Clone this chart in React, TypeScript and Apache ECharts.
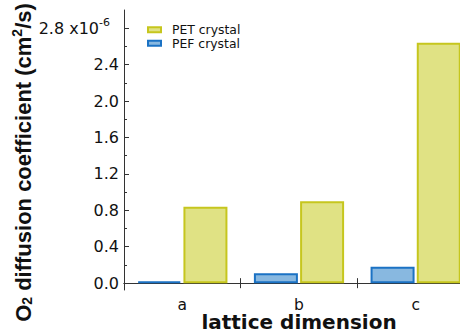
import { useEffect, useRef } from 'react';
import * as echarts from 'echarts';

const categories = ['a', 'b', 'c'];
const pefCrystal = [0.02, 0.11, 0.18];
const petCrystal = [0.84, 0.9, 2.64];
const majorTicks = [0, 0.4, 0.8, 1.2, 1.6, 2.0, 2.4, 2.8];
const minorTicks = [0.2, 0.6, 1.0, 1.4, 1.8, 2.2, 2.6];
const legendOrder = ['PET crystal', 'PEF crystal'];

const FONT = 'DejaVu Sans';
const AXIS_COLOR = '#333333';

export default function App() {
  const ref = useRef<HTMLDivElement>(null);
  useEffect(() => {
    if (!ref.current) return;
    const chart = echarts.init(ref.current, null, { renderer: 'svg' });
    const yMin = -0.075;
    const yMax = 3.0;
    chart.setOption({
      animation: false,
      backgroundColor: '#ffffff',
      grid: { left: 124, top: 10, bottom: 41, right: -14, containLabel: false, outerBoundsMode: 'none' },
      legend: {
        data: legendOrder,
        orient: 'vertical',
        left: 142,
        top: 18,
        itemWidth: 13,
        itemHeight: 5,
        itemGap: 0,
        icon: 'rect',
        textStyle: { fontFamily: FONT, fontSize: 12.4, color: '#111', lineHeight: 13.5, padding: [0, 0, 0, 6] },
      },
      xAxis: [
        {
          type: 'category',
          data: categories,
          position: 'bottom',
          axisLine: { show: true, lineStyle: { color: AXIS_COLOR, width: 1 } },
          axisTick: { show: true, inside: true, length: 5, lineStyle: { color: AXIS_COLOR } },
          axisLabel: { fontFamily: FONT, fontSize: 15.5, color: '#111', margin: 8, lineHeight: 14 },
          name: 'lattice dimension',
          nameLocation: 'middle',
          nameGap: 23,
          nameMoveOverlap: false,
          nameTextStyle: { fontFamily: FONT, fontSize: 20, fontWeight: 'bold', color: '#111', lineHeight: 17 },
        },
        {
          type: 'category',
          data: categories,
          position: 'top',
          axisLine: { show: true, lineStyle: { color: AXIS_COLOR, width: 1 } },
          axisTick: { show: true, inside: true, length: 5, lineStyle: { color: AXIS_COLOR } },
          axisLabel: { show: false },
        },
      ],
      yAxis: [
        {
          type: 'value',
          min: yMin,
          max: yMax,
          position: 'left',
          splitLine: { show: false },
          axisLine: { show: true, lineStyle: { color: AXIS_COLOR, width: 1 } },
          axisTick: { show: true, inside: true, length: 5, customValues: majorTicks, lineStyle: { color: AXIS_COLOR } },
          axisLabel: {
            customValues: majorTicks,
            margin: 5,
            fontFamily: FONT,
            fontSize: 16,
            color: '#111',
            formatter: (v: number) => (Math.abs(v - 2.8) < 1e-9 ? '{n|2.8 x10}{s|-6}' : v.toFixed(1)),
            rich: {
              n: { fontFamily: FONT, fontSize: 16, color: '#111' },
              s: { fontFamily: FONT, fontSize: 11, color: '#111', padding: [0, 9, 12, 0] },
            },
          },
          name: '{b|O}{sub|2}{b| diffusion coefficient (cm}{sup|2}{b|/s)}',
          nameLocation: 'middle',
          nameRotate: 90,
          nameGap: 88,
          nameMoveOverlap: false,
          nameTextStyle: {
            padding: [0, 25, 0, 0],
            rich: {
              b: { fontFamily: 'Liberation Sans', fontSize: 22, fontWeight: 'bold', color: '#111' },
              sub: { fontFamily: 'Liberation Sans', fontSize: 14, fontWeight: 'bold', color: '#111', padding: [8, 0, 0, 0] },
              sup: { fontFamily: 'Liberation Sans', fontSize: 14, fontWeight: 'bold', color: '#111', padding: [0, 0, 12, 0] },
            },
          },
        },
        {
          type: 'value',
          min: yMin,
          max: yMax,
          position: 'left',
          splitLine: { show: false },
          axisLine: { show: false },
          axisLabel: { show: false },
          axisTick: { show: true, inside: true, length: 3, customValues: minorTicks, lineStyle: { color: AXIS_COLOR } },
        },
      ],
      series: [
        {
          name: 'PEF crystal',
          type: 'bar',
          xAxisIndex: 0,
          yAxisIndex: 0,
          data: pefCrystal,
          barWidth: 44,
          barGap: '5%',
          itemStyle: { color: '#88b8e0', borderColor: '#1b72c4', borderWidth: 2 },
        },
        {
          name: 'PET crystal',
          type: 'bar',
          xAxisIndex: 0,
          yAxisIndex: 0,
          data: petCrystal,
          barWidth: 44,
          barGap: '5%',
          itemStyle: { color: '#e0e284', borderColor: '#c6c61e', borderWidth: 2 },
        },
      ],
    });
    return () => chart.dispose();
  }, []);
  return <div ref={ref} style={{ position: 'absolute', left: 0, top: 0, width: 460, height: 331 }} />;
}
